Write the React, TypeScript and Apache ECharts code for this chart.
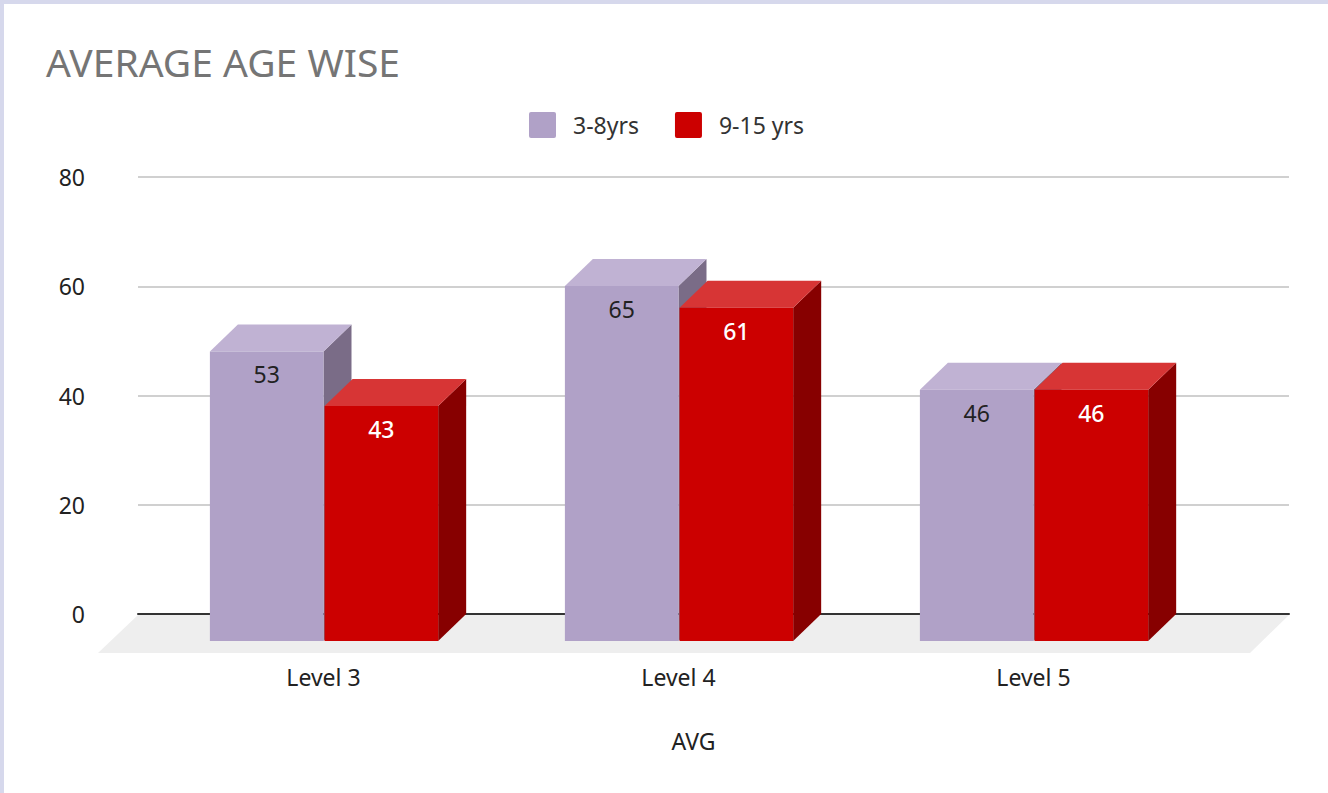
import React, { useEffect, useRef } from "react";
import * as echarts from "echarts";

const categories = ["Level 3", "Level 4", "Level 5"];
const series1Name = "3-8yrs";
const series2Name = "9-15 yrs";
const series1Values = [53, 65, 46];
const series2Values = [43, 61, 46];
const yTicks = [0, 20, 40, 60, 80];
const titleText = "AVERAGE AGE WISE";
const xAxisName = "AVG";

const FONT = '"Noto Sans", sans-serif';
const DX = 28;
const DY = 27;

function bar3d(front: string, top: string, side: string, labelColor: string, offsetFactor: number, labelWeight: number) {
  return (params: any, api: any) => {
    const band = api.size([1, 0])[0];
    const w = band * 0.32;
    const center = api.coord([api.value(0), 0]);
    const topPt = api.coord([api.value(0), api.value(1)]);
    const x0 = center[0] + offsetFactor * band;
    const x1 = x0 + w;
    const yB = center[1];
    const yT = topPt[1];
    return {
      type: "group",
      children: [
        { type: "polygon", shape: { points: [[x1, yT], [x1 + DX, yT - DY], [x1 + DX, yB - DY], [x1, yB]] }, style: { fill: side } },
        { type: "polygon", shape: { points: [[x0, yT], [x0 + DX, yT - DY], [x1 + DX, yT - DY], [x1, yT]] }, style: { fill: top } },
        { type: "rect", shape: { x: x0, y: yT, width: w, height: yB - yT }, style: { fill: front } },
        {
          type: "text",
          x: (x0 + x1) / 2,
          y: yT + 23,
          style: {
            text: String(api.value(1)),
            fill: labelColor,
            font: `${labelWeight} 23px ${FONT}`,
            align: "center",
            verticalAlign: "middle",
          },
        },
      ],
    };
  };
}

function floor(params: any) {
  const c = params.coordSys;
  const y = c.y + c.height + 1;
  const yF = y + 38;
  return {
    type: "polygon",
    shape: { points: [[c.x, y], [c.x + c.width, y], [c.x + c.width - 39, yF], [c.x - 40, yF]] },
    style: { fill: "#eeeeee" },
  };
}

export default function App() {
  const ref = useRef<HTMLDivElement>(null);
  useEffect(() => {
    document.body.style.margin = "0";
    const chart = echarts.init(ref.current!, null, { renderer: "svg" });
    chart.setOption({
      animation: false,
      backgroundColor: "transparent",
      textStyle: { fontFamily: FONT },
      title: {
        text: titleText,
        left: 46,
        top: 42,
        padding: 0,
        textStyle: { color: "#757575", fontSize: 39, fontWeight: "normal", fontFamily: FONT },
      },
      legend: {
        data: [series1Name, series2Name],
        top: 112,
        left: 529,
        padding: 0,
        itemWidth: 27,
        itemHeight: 26,
        itemGap: 36,
        icon: "path://M2 0H25Q27 0 27 2V24Q27 26 25 26H2Q0 26 0 24V2Q0 0 2 0Z",
        selectedMode: false,
        textStyle: { color: "#333333", fontSize: 23, fontFamily: FONT, padding: [0, 0, 0, 12] },
      },
      grid: [
        { left: 138, right: 39, top: 177, bottom: 179 },
        { left: 146, right: 117, top: 204, bottom: 152 },
      ],
      xAxis: [
        {
          gridIndex: 0,
          type: "category",
          data: [""],
          axisTick: { show: false },
          axisLabel: { show: false },
          axisLine: { show: true, lineStyle: { color: "#333333", width: 2 } },
        },
        {
          gridIndex: 1,
          type: "category",
          data: categories,
          axisTick: { show: false },
          axisLine: { show: false },
          axisLabel: { color: "#222222", fontSize: 23, margin: 24, fontFamily: FONT },
          name: xAxisName,
          nameLocation: "middle",
          nameGap: 88,
          nameTextStyle: { color: "#222222", fontSize: 23, fontFamily: FONT, padding: [0, 0, 0, 30] },
        },
      ],
      yAxis: [
        {
          gridIndex: 0,
          type: "value",
          min: 0,
          max: 80,
          interval: 20,
          axisLine: { show: false },
          axisTick: { show: false },
          axisLabel: {
            color: "#222222",
            fontSize: 23,
            margin: 53,
            fontFamily: FONT,
            customValues: yTicks,
          },
          splitLine: { show: true, lineStyle: { color: "#d0d0d0", width: 2 } },
        },
        { gridIndex: 1, type: "value", min: 0, max: 80, interval: 20, show: false },
      ],
      series: [
        {
          type: "custom",
          name: "floor",
          xAxisIndex: 0,
          yAxisIndex: 0,
          data: [[0, 0]],
          renderItem: floor,
          silent: true,
          z: 1,
          clip: false,
        },
        {
          type: "custom",
          name: series1Name,
          xAxisIndex: 1,
          yAxisIndex: 1,
          data: series1Values.map((v, i) => [i, v]),
          encode: { x: 0, y: 1 },
          itemStyle: { color: "#b0a1c7" },
          renderItem: bar3d("#b0a1c7", "#c0b2d3", "#7a6c87", "#222222", -0.32, 400),
          z: 3,
          clip: false,
        },
        {
          type: "custom",
          name: series2Name,
          xAxisIndex: 1,
          yAxisIndex: 1,
          data: series2Values.map((v, i) => [i, v]),
          encode: { x: 0, y: 1 },
          itemStyle: { color: "#cc0000" },
          renderItem: bar3d("#cc0000", "#d73535", "#870000", "#ffffff", 0.003, 500),
          z: 4,
          clip: false,
        },
      ],
    });
    return () => chart.dispose();
  }, []);
  return (
    <div style={{ position: "relative", width: 1328, height: 793, background: "#d6d8ec", overflow: "hidden" }}>
      <div style={{ position: "absolute", left: 4, top: 4, width: 1324, height: 789, background: "#ffffff" }} />
      <div ref={ref} style={{ position: "absolute", left: 0, top: 0, width: 1328, height: 793 }} />
    </div>
  );
}
